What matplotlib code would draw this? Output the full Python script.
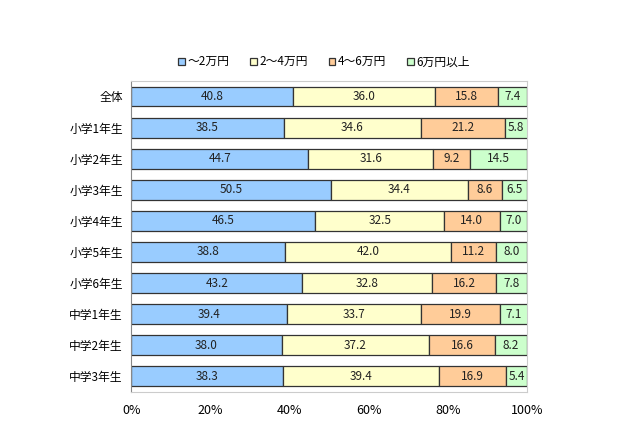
import matplotlib.pyplot as plt
import numpy as np

plt.rcParams['font.family'] = ['Noto Sans CJK JP', 'DejaVu Sans']

# data
grades = ['全体', '小学1年生', '小学2年生', '小学3年生', '小学4年生',
          '小学5年生', '小学6年生', '中学1年生', '中学2年生', '中学3年生']
under2 = [40.8, 38.5, 44.7, 50.5, 46.5, 38.8, 43.2, 39.4, 38.0, 38.3]
from2to4 = [36.0, 34.6, 31.6, 34.4, 32.5, 42.0, 32.8, 33.7, 37.2, 39.4]
from4to6 = [15.8, 21.2, 9.2, 8.6, 14.0, 11.2, 16.2, 19.9, 16.6, 16.9]
over6 = [7.4, 5.8, 14.5, 6.5, 7.0, 8.0, 7.8, 7.1, 8.2, 5.4]

series_names = ['～2万円', '2～4万円', '4～6万円', '6万円以上']
colors = ['#99CCFF', '#FFFFCC', '#FFCC99', '#CCFFCC']
tick_labels = ['0%', '20%', '40%', '60%', '80%', '100%']

fig = plt.figure(figsize=(6.4, 4.26), dpi=100)
ax = fig.add_axes([0.205, 0.08, 0.619, 0.73])

y = np.arange(len(grades))
left = np.zeros(len(grades))
handles = []
for vals, name, c in zip([under2, from2to4, from4to6, over6], series_names, colors):
    vals = np.array(vals)
    bars = ax.barh(y, vals, left=left, height=0.64, color=c,
                   edgecolor='#333333', linewidth=0.9, label=name)
    handles.append(bars)
    for yi, l, v in zip(y, left, vals):
        ax.text(l + v / 2, yi, f'{v:.1f}', ha='center', va='center',
                fontsize=8.5, color='#222222')
    left = left + vals

ax.set_xlim(0, 100)
ax.set_ylim(len(grades) - 0.5, -0.5)
ax.set_yticks(y)
ax.set_yticklabels(grades, fontsize=8.5)
ax.set_xticks(np.arange(0, 101, 20))
ax.set_xticklabels(tick_labels, fontsize=9)
ax.tick_params(axis='both', length=0, pad=6)
ax.tick_params(axis='x', pad=9)
for side in ['top', 'right', 'bottom']:
    ax.spines[side].set_color('#cccccc')
ax.spines['left'].set_color('#888888')

fig.legend(handles=handles, loc='center', bbox_to_anchor=(0.506, 0.855), ncol=4,
           frameon=False, fontsize=8.5, handlelength=0.55, handleheight=0.55,
           handletextpad=0.2, columnspacing=1.8)

plt.savefig('out.png', dpi=100)
